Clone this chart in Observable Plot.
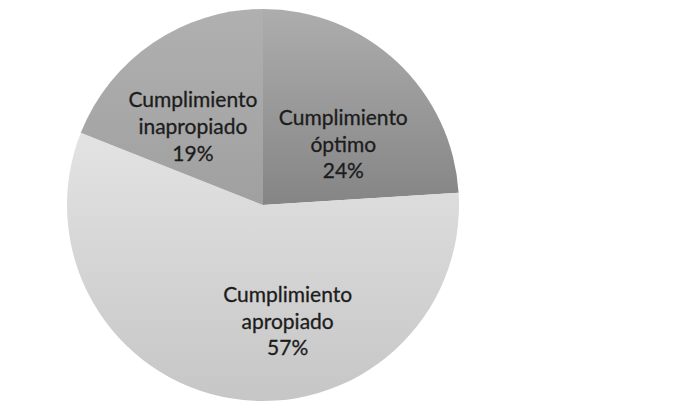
<!DOCTYPE html>
<html>
<head>
<meta charset="utf-8">
<script src="https://cdn.jsdelivr.net/npm/d3@7"></script>
<script src="https://cdn.jsdelivr.net/npm/@observablehq/plot@0.6"></script>
<style>
  html, body { margin: 0; padding: 0; background: #ffffff; }
  #chart { width: 676px; height: 417px; }
</style>
</head>
<body>
<div id="chart"></div>
<script>
// ---- data ----
const categories = ["Cumplimiento óptimo", "Cumplimiento apropiado", "Cumplimiento inapropiado"];
const labelLines = ["Cumplimiento\nóptimo", "Cumplimiento\napropiado", "Cumplimiento\ninapropiado"];
const percents = [24, 57, 19];

// ---- styles ----
const radiusPx = 196;
const gradTop = ["#adadad", "#e3e3e3", "#b0b0b0"];
const gradBottom = ["#858585", "#c6c6c6", "#a0a0a0"];
const nudgePx = {
  "Cumplimiento óptimo": [6, 16],
  "Cumplimiento apropiado": [41, 8],
  "Cumplimiento inapropiado": [-10, 9]
};

const rows = categories.map((c, i) => ({category: c, lines: labelLines[i], value: percents[i], i}));
const arcs = d3.pie().sort(null).value(d => d.value)(rows);

// label anchor in unit coordinates (y up), at 0.55 of radius, plus a small nudge
const k = 0.55;
const labels = arcs.map(a => {
  const mid = (a.startAngle + a.endAngle) / 2;
  const [nx, ny] = nudgePx[a.data.category];
  return {
    category: a.data.category,
    text: `${a.data.lines}\n${a.data.value}%`,
    ux: Math.sin(mid) * k + nx / radiusPx,
    uy: Math.cos(mid) * k - ny / radiusPx
  };
});

function pieMark(index, scales) {
  const {x, y} = scales;
  const cx = x(0), cy = y(0), r = x(1) - x(0);
  const g = d3.create("svg:g");
  const defs = g.append("defs");
  arcs.forEach((a, j) => {
    const lg = defs.append("linearGradient")
      .attr("id", "slicegrad" + j)
      .attr("x1", 0).attr("y1", 0).attr("x2", 0).attr("y2", 1);
    lg.append("stop").attr("offset", "0%").attr("stop-color", gradTop[a.data.i]);
    lg.append("stop").attr("offset", "100%").attr("stop-color", gradBottom[a.data.i]);
  });
  const arcGen = d3.arc().innerRadius(0).outerRadius(r);
  g.append("g")
    .attr("transform", `translate(${cx},${cy})`)
    .selectAll("path")
    .data(arcs)
    .join("path")
    .attr("d", arcGen)
    .attr("fill", (d, j) => `url(#slicegrad${j})`);
  return g.node();
}

const cx = 263, cy = 205;
const chart = Plot.plot({
  width: 676,
  height: 417,
  margin: 0,
  style: {background: "#ffffff"},
  x: {domain: [-1, 1], range: [cx - radiusPx, cx + radiusPx], axis: null},
  y: {domain: [-1, 1], range: [cy + radiusPx, cy - radiusPx], axis: null},
  marks: [
    pieMark,
    Plot.text(labels, {
      x: "ux",
      y: "uy",
      text: "text",
      fontFamily: "Lato, 'Open Sans', sans-serif",
      fontSize: 21,
      lineHeight: 1.28,
      fill: "#1c1c1c",
      stroke: "#1c1c1c",
      strokeWidth: 0.3,
      textAnchor: "middle",
      lineAnchor: "middle"
    })
  ]
});

document.getElementById("chart").appendChild(chart);
</script>
</body>
</html>
